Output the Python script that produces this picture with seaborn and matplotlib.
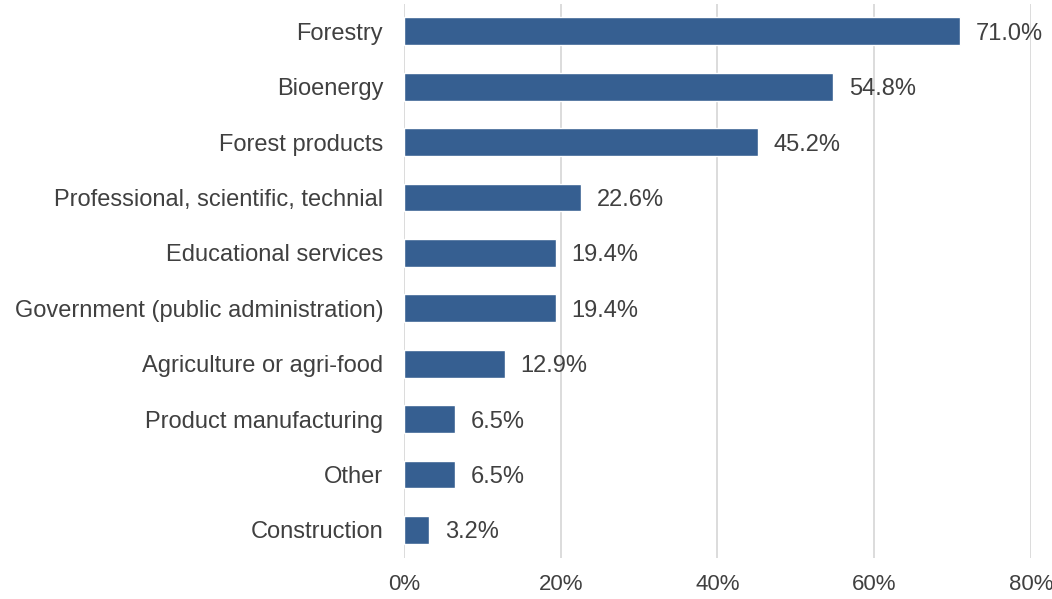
import pandas as pd
import numpy as np
import matplotlib.pyplot as plt
import seaborn as sns
from matplotlib.ticker import FuncFormatter

# Данные
categories = ['Forestry', 'Bioenergy', 'Forest products',
              'Professional, scientific, technial', 'Educational services',
              'Government (public administration)', 'Agriculture or agri-food',
              'Product manufacturing', 'Other', 'Construction']
values = [71.0, 54.8, 45.2, 22.6, 19.4, 19.4, 12.9, 6.5, 6.5, 3.2]

df = pd.DataFrame({'category': categories, 'value': values})

sns.set_style('white')
plt.rcParams['font.family'] = ['Liberation Sans', 'DejaVu Sans']

fig = plt.figure(figsize=(10.52, 5.99), dpi=100)
ax = fig.add_axes([0.384, 0.069, 0.596, 0.925])

sns.barplot(data=df, x='value', y='category', color='#365F91', width=0.5,
            saturation=1, ax=ax, zorder=3)

ax.set_xlim(0, 80)
ax.set_xticks([0, 20, 40, 60, 80])
ax.xaxis.set_major_formatter(FuncFormatter(lambda v, p: f'{v:.0f}%'))
ax.grid(axis='x', color='#d9d9d9', linewidth=1.3, zorder=0)
ax.set_axisbelow(True)
for s in ax.spines.values():
    s.set_visible(False)

ax.tick_params(axis='both', length=0, colors='#404040')
ax.tick_params(axis='y', pad=15, labelsize=17)
ax.tick_params(axis='x', pad=12, labelsize=16)
ax.set_xlabel('')
ax.set_ylabel('')

# Подписи значений
for i, v in enumerate(values):
    ax.text(v + 2.0, i, f'{v:.1f}%', va='center_baseline', ha='left',
            fontsize=17, color='#404040')

plt.savefig('out.png', dpi=100)
